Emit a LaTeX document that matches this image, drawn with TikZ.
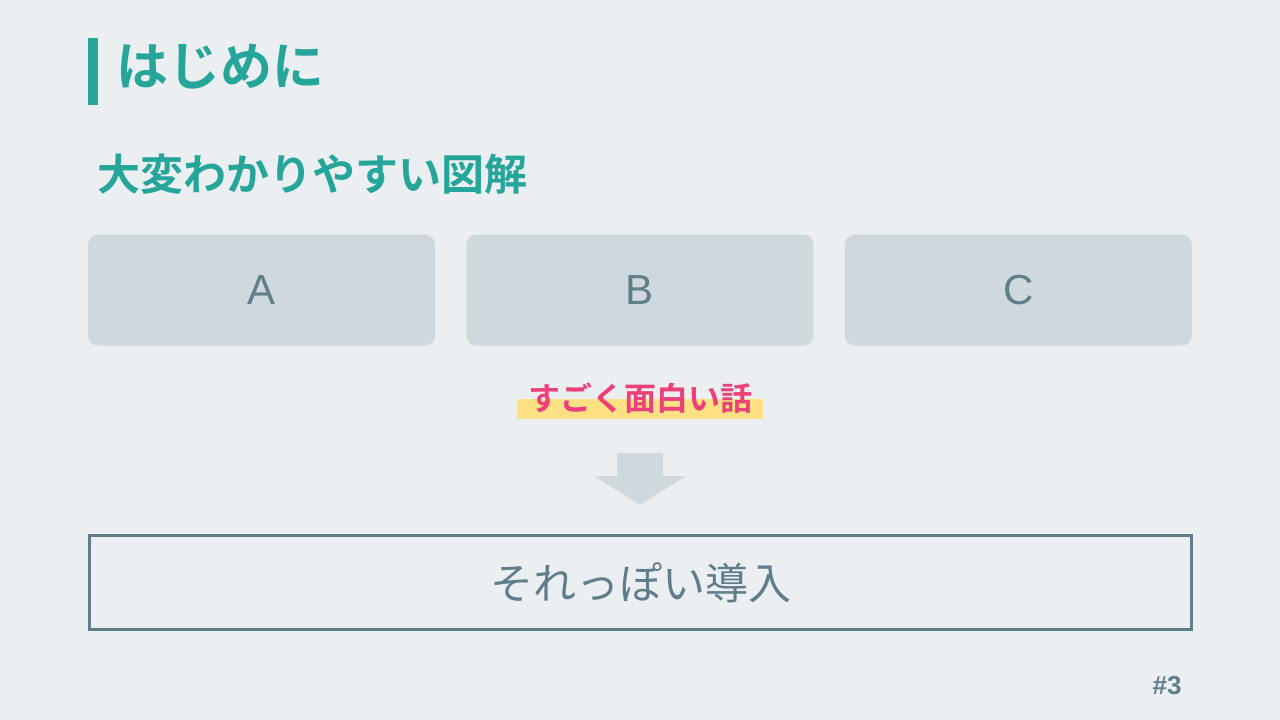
\documentclass[tikz,border=0pt]{standalone}
\usepackage{fontspec}
\setmainfont{Liberation Sans}
\newfontfamily\jpfont{Noto Sans CJK JP}[BoldFont={Noto Sans CJK JP Bold}]
\usetikzlibrary{positioning}
\definecolor{bggray}{HTML}{ECEFF1}
\definecolor{titleteal}{HTML}{26A69A}
\definecolor{boxgray}{HTML}{CFD8DC}
\definecolor{slate}{HTML}{607D8B}
\definecolor{hlyellow}{HTML}{FFE082}
\definecolor{hlpink}{HTML}{EC407A}
\tikzset{x=1pt, y=-1pt, % one unit is one pixel, y runs downwards
every node/.style={inner sep=0pt},
card/.style={fill=boxgray, rounded corners=10pt, minimum width=347pt, minimum height=111pt,
  text=slate, font=\fontsize{42}{48}\selectfont}, % the three grey boxes
heading/.style={text=titleteal, font=\jpfont\bfseries\fontsize{#1}{#1}\selectfont},
}

\begin{document}
\begin{tikzpicture}
\fill[bggray] (0,0) rectangle (1280,720);
\useasboundingbox (0,0) rectangle (1280,720);
\fill[titleteal] (88,38) rectangle (98,105);
\node[heading=52, anchor=west] (title) at (116,67) {はじめに};
\node[heading=43, anchor=west] (sub) at (97,174) {大変わかりやすい図解};
\node[card] (A) at (261.5,290) {A};
\node[card, right=31pt of A] (B) {B};
\node[card, right=31pt of B] (C) {C};
\node[fill=hlyellow, minimum width=246pt, minimum height=20pt] (band) at (640,409) {};
\node[text=hlpink, font=\jpfont\bfseries\fontsize{32}{32}\selectfont] (talk) at (640,398) {すごく面白い話};
\fill[boxgray] (617,453) -- (663,453) -- (663,476) -- (686,476) -- (640,505)
  -- (594,476) -- (617,476) -- cycle;
\node[draw=slate, line width=3pt, minimum width=1102pt, minimum height=94pt,
  text=slate, font=\jpfont\fontsize{43}{43}\selectfont] (intro) at (640.5,582.5) {それっぽい導入};
\node[text=slate, font=\bfseries\fontsize{26}{26}\selectfont] (page) at (1167,686) {\#3};
\end{tikzpicture}
\end{document}
